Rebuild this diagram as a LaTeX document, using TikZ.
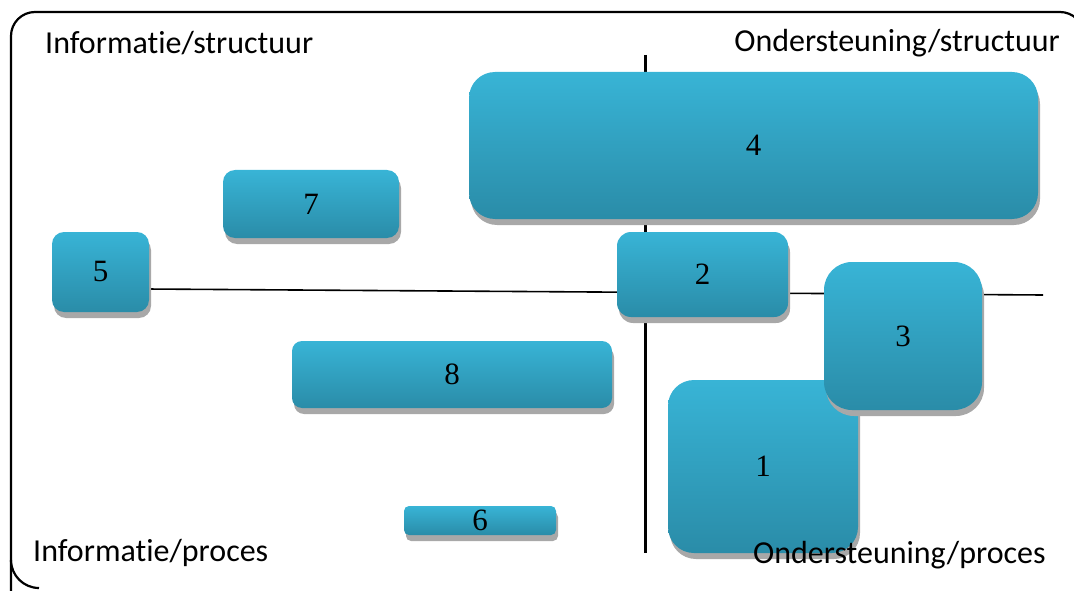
\documentclass[tikz,border=0pt]{standalone}
\usepackage{fontspec}
\setmainfont{Carlito}[Ligatures=NoCommon]
\newfontfamily\numfont{Liberation Serif}
\usetikzlibrary{shadows}
\definecolor{boxtop}{RGB}{56,180,214}
\definecolor{boxbot}{RGB}{42,140,168}
\definecolor{shad}{RGB}{168,168,168}
\tikzset{
  box/.style={rounded corners=#1, top color=boxtop, bottom color=boxbot, draw=none,
    inner sep=0pt, font=\numfont\fontsize{31}{33}\selectfont,
    drop shadow={shadow xshift=2pt, shadow yshift=-6pt, fill=shad, opacity=1}},
  box/.default=12pt,
  lbl/.style={inner sep=0pt, font=\fontsize{32}{35}\selectfont},
  axis/.style={draw=black, line width=#1},
}
\begin{document}
\begin{tikzpicture}[x=1pt,y=-1pt]
\useasboundingbox (0,0) rectangle (1074,591);
\begin{scope}
\clip (0,0) rectangle (1074,591);
% frame (right and bottom edges fall outside the picture)
\draw[line width=2.2pt] (11,612) -- (11,36) arc[start angle=180, end angle=90, radius=24pt] -- (1060,12) arc[start angle=90, end angle=45, radius=24pt];
\draw[line width=2.2pt] (11,560) arc[start angle=180, end angle=270, radius=28pt];
\end{scope}
% axes
\coordinate (vT) at (645,55);
\coordinate (vB) at (645,553);
\coordinate (hL) at (146,289);
\coordinate (hR) at (1043,295);
\draw[axis=3pt] (vT) -- (vB);
\draw[axis=1.6pt] (hL) -- (hR);
% boxes
\node[box=26pt, minimum width=569pt, minimum height=147pt] (n4) at (753.5,145.5) {\raisebox{-2pt}{4}};
\node[box=12pt, minimum width=176pt, minimum height=68pt] (n7) at (311,204) {\raisebox{-1pt}{7}};
\node[box=12pt, minimum width=97pt, minimum height=80pt] (n5) at (100.5,272) {\raisebox{-1pt}{5}};
\node[box=14pt, minimum width=171pt, minimum height=85pt] (n2) at (702.5,274.5) {\raisebox{-2pt}{2}};
\node[box=26pt, minimum width=190pt, minimum height=173pt] (n1) at (763,466.5) {\raisebox{-2pt}{1}};
\node[box=28pt, minimum width=158pt, minimum height=148pt] (n3) at (903,336) {\raisebox{-1pt}{3}};
\node[box=10pt, minimum width=320pt, minimum height=67pt] (n8) at (452,374.5) {\raisebox{-2pt}{8}};
\node[box=5pt, minimum width=152pt, minimum height=29pt] (n6) at (480,520.5) {\raisebox{-2pt}{6}};
% quadrant labels
\node[lbl, anchor=west] (qa) at (45,43) {Informatie/structuur};
\node[lbl, anchor=east] (qb) at (1060,43) {Ondersteuning/structuur};
\node[lbl, anchor=west] (qc) at (33,553) {Informatie/proces};
\node[lbl, anchor=west] (qd) at (753,555) {Ondersteuning/proces};
\end{tikzpicture}
\end{document}
